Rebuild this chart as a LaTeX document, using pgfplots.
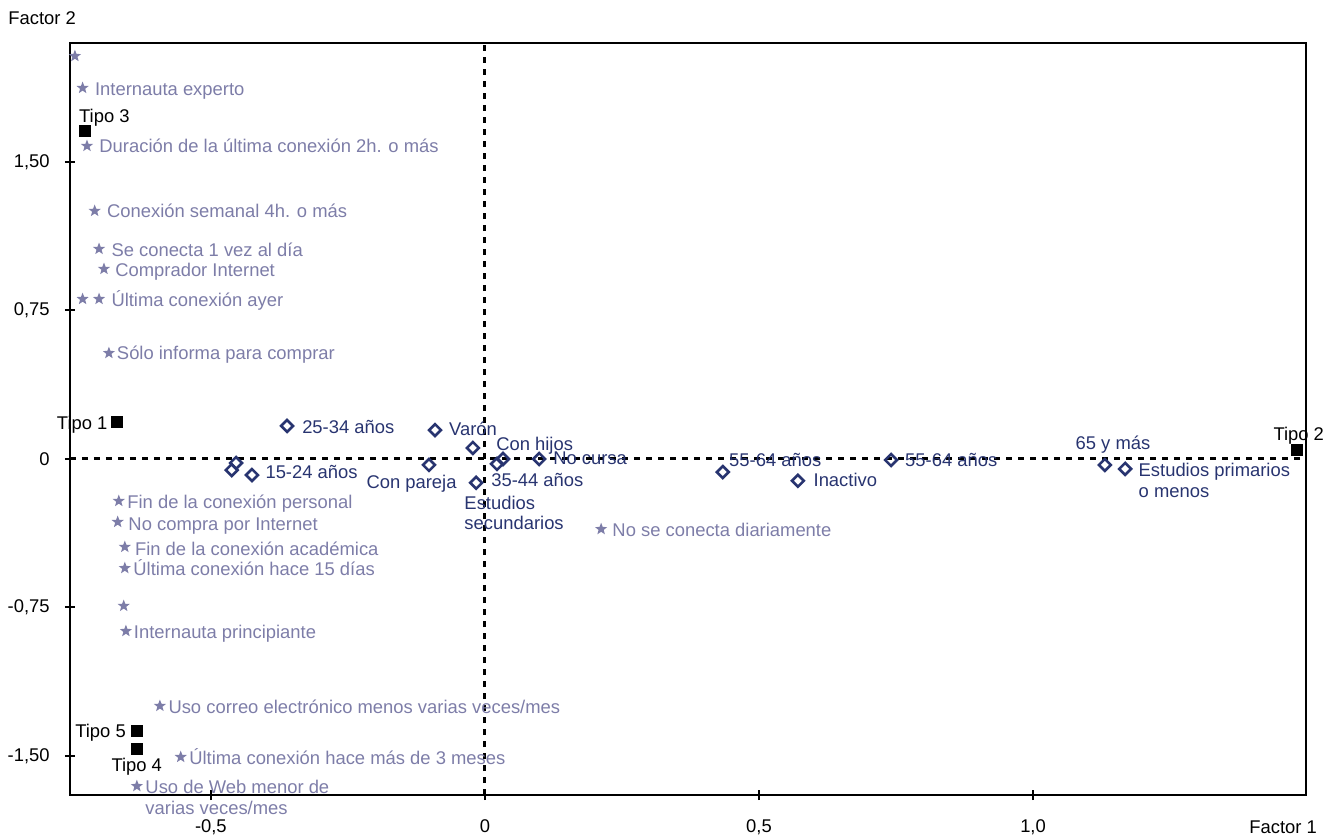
\documentclass[border=0pt]{standalone}
\usepackage{pgfplots}
\pgfplotsset{compat=1.18}
\usepackage{fontspec}
\setmainfont{Liberation Sans}
\definecolor{starc}{RGB}{125,125,168}
\definecolor{diac}{RGB}{40,52,112}
\pgfdeclareplotmark{fstar}{%
  \pgfpathmoveto{\pgfpointpolar{90}{\pgfplotmarksize}}%
  \pgfpathlineto{\pgfpointpolar{126}{0.42\pgfplotmarksize}}%
  \pgfpathlineto{\pgfpointpolar{162}{\pgfplotmarksize}}%
  \pgfpathlineto{\pgfpointpolar{198}{0.42\pgfplotmarksize}}%
  \pgfpathlineto{\pgfpointpolar{234}{\pgfplotmarksize}}%
  \pgfpathlineto{\pgfpointpolar{270}{0.42\pgfplotmarksize}}%
  \pgfpathlineto{\pgfpointpolar{306}{\pgfplotmarksize}}%
  \pgfpathlineto{\pgfpointpolar{342}{0.42\pgfplotmarksize}}%
  \pgfpathlineto{\pgfpointpolar{18}{\pgfplotmarksize}}%
  \pgfpathlineto{\pgfpointpolar{54}{0.42\pgfplotmarksize}}%
  \pgfpathclose\pgfusepathqfill}
\begin{document}
\fontsize{9.2}{11}\selectfont
\begin{tikzpicture}[
  lab/.style={anchor=base west, inner sep=0pt, yshift=-3.3pt},
  labe/.style={anchor=base east, inner sep=0pt, yshift=-3.3pt},
  sl/.style={lab, text=starc},
  dl/.style={lab, text=diac},
  tl/.style={lab, text=black}]
\begin{axis}[name=ax, scale only axis, width=618pt, height=376pt,
  xmin=-0.757, xmax=1.498, ymin=-1.697, ymax=2.101, clip=false,
  axis line style={line width=1.25pt},
  tick style={line width=1pt, black},
  tick align=center, major tick length=5pt,
  xtick pos=bottom, ytick pos=left,
  xtick={-0.5,0,0.5,1}, xticklabels={{-0,5},0,{0,5},{1,0}},
  ytick={-1.5,-0.75,0,0.75,1.5}, yticklabels={{-1,50},{-0,75},0,{0,75},{1,50}},
  xticklabel style={anchor=north, inner sep=0pt, yshift=-9.5pt},
  yticklabel style={anchor=east, inner sep=0pt, xshift=-7.5pt},
]
\draw[black, line width=1.5pt, dash pattern=on 3pt off 3pt] (axis cs:0,-1.697) -- (axis cs:0,2.101);
\draw[black, line width=1.5pt, dash pattern=on 3pt off 3pt] (axis cs:-0.757,0) -- (axis cs:1.498,0);
\addplot[only marks, mark=fstar, mark size=3.2pt, color=starc] coordinates {
(-0.748,2.035) (-0.734,1.874) (-0.726,1.581) (-0.712,1.253) (-0.704,1.061)
(-0.695,0.960) (-0.734,0.808) (-0.704,0.808) (-0.686,0.535) (-0.668,-0.212)
(-0.670,-0.318) (-0.657,-0.444) (-0.657,-0.551) (-0.659,-0.742) (-0.655,-0.869)
(-0.593,-1.247) (-0.555,-1.505) (-0.635,-1.652) (0.212,-0.354)};
\addplot[only marks, mark=square, mark size=2.1pt, color=diac,
  mark options={rotate=45, fill=white, line width=1.3pt}] coordinates {
(-0.361,0.167) (-0.454,-0.020) (-0.462,-0.056) (-0.425,-0.081) (-0.091,0.146)
(-0.022,0.056) (-0.102,-0.030) (-0.016,-0.120) (0.022,-0.025) (0.033,0.000)
(0.099,0.000) (0.434,-0.066) (0.571,-0.110) (0.741,-0.005) (1.131,-0.030)
(1.168,-0.050)};
\addplot[only marks, mark=square*, mark size=2.75pt, black] coordinates {
(-0.672,0.187) (1.482,0.045) (-0.730,1.657) (-0.635,-1.374) (-0.635,-1.465)};
% star labels
\node[sl] at (axis cs:-0.712,1.869) {Internauta experto};
\node[sl] at (axis cs:-0.704,1.581) {Duración de la última conexión 2h. o más};
\node[sl] at (axis cs:-0.690,1.253) {Conexión semanal 4h. o más};
\node[sl] at (axis cs:-0.682,1.056) {Se conecta 1 vez al día};
\node[sl] at (axis cs:-0.675,0.955) {Comprador Internet};
\node[sl] at (axis cs:-0.682,0.803) {Última conexión ayer};
\node[sl] at (axis cs:-0.672,0.535) {Sólo informa para comprar};
\node[sl] at (axis cs:-0.653,-0.217) {Fin de la conexión personal};
\node[sl] at (axis cs:-0.651,-0.328) {No compra por Internet};
\node[sl] at (axis cs:-0.639,-0.455) {Fin de la conexión académica};
\node[sl] at (axis cs:-0.642,-0.556) {Última conexión hace 15 días};
\node[sl] at (axis cs:-0.641,-0.874) {Internauta principiante};
\node[sl] at (axis cs:-0.578,-1.253) {Uso correo electrónico menos varias veces/mes};
\node[sl] at (axis cs:-0.540,-1.510) {Última conexión hace más de 3 meses};
\node[sl] at (axis cs:-0.620,-1.657) {Uso de Web menor de};
\node[sl] at (axis cs:-0.620,-1.763) {varias veces/mes};
\node[sl] at (axis cs:0.232,-0.359) {No se conecta diariamente};
% diamond labels
\node[dl] at (axis cs:-0.334,0.162) {25-34 años};
\node[dl] at (axis cs:-0.401,-0.066) {15-24 años};
\node[dl] at (axis cs:-0.066,0.152) {Varón};
\node[dl] at (axis cs:0.020,0.076) {Con hijos};
\node[labe, text=diac] at (axis cs:-0.051,-0.116) {Con pareja};
\node[dl] at (axis cs:-0.038,-0.222) {Estudios};
\node[dl] at (axis cs:-0.038,-0.323) {secundarios};
\node[dl] at (axis cs:0.011,-0.106) {35-44 años};
\node[dl] at (axis cs:0.124,0.005) {No cursa};
\node[dl] at (axis cs:0.445,-0.005) {55-64 años};
\node[dl] at (axis cs:0.599,-0.106) {Inactivo};
\node[dl] at (axis cs:0.766,-0.005) {55-64 años};
\node[dl] at (axis cs:1.077,0.081) {65 y más};
\node[dl] at (axis cs:1.192,-0.056) {Estudios primarios};
\node[dl] at (axis cs:1.192,-0.162) {o menos};
% tipo labels
\node[tl] at (axis cs:-0.741,1.732) {Tipo 3};
\node[labe] at (axis cs:-0.688,0.182) {Tipo 1};
\node[tl] at (axis cs:1.438,0.126) {Tipo 2};
\node[tl] at (axis cs:-0.748,-1.374) {Tipo 5};
\node[tl] at (axis cs:-0.682,-1.545) {Tipo 4};
\end{axis}
\node[anchor=base west, inner sep=0pt] at ([shift={(-31pt,385.25pt)}]ax.south west) {Factor 2};
\node[anchor=base west, inner sep=0pt] at ([shift={(589.5pt,-19pt)}]ax.south west) {Factor 1};
\pgfresetboundingbox
\path ([shift={(-35pt,-21pt)}]ax.south west) rectangle ([shift={(632pt,397.5pt)}]ax.south west);
\end{tikzpicture}
\end{document}
